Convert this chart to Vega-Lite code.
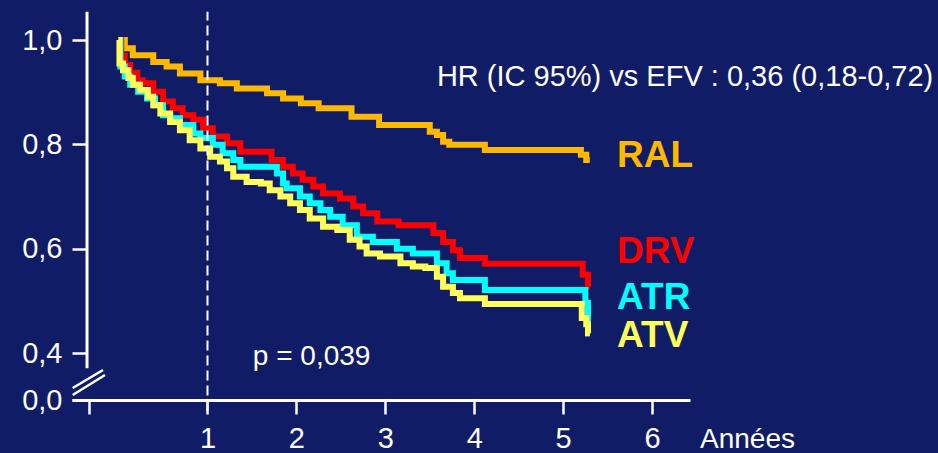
{
  "$schema": "https://vega.github.io/schema/vega-lite/v6.json",
  "width": 618,
  "height": 390,
  "autosize": "none",
  "padding": {"left": 72, "top": 10, "right": 248, "bottom": 53},
  "background": "#111c66",
  "config": {
    "view": {"stroke": null},
    "font": "Liberation Sans",
    "axis": {"grid": false, "title": null}
  },
  "datasets": {
    "RAL": [
      {"t": 0, "s": 1.0}, {"t": 0.07, "s": 0.984}, {"t": 0.16, "s": 0.971}, {"t": 0.39, "s": 0.958},
      {"t": 0.54, "s": 0.949}, {"t": 0.69, "s": 0.936}, {"t": 0.92, "s": 0.923}, {"t": 1.14, "s": 0.917},
      {"t": 1.33, "s": 0.907}, {"t": 1.67, "s": 0.898}, {"t": 1.85, "s": 0.888}, {"t": 2.05, "s": 0.879},
      {"t": 2.25, "s": 0.869}, {"t": 2.62, "s": 0.853}, {"t": 2.93, "s": 0.837}, {"t": 3.5, "s": 0.824},
      {"t": 3.58, "s": 0.818}, {"t": 3.65, "s": 0.805}, {"t": 3.72, "s": 0.799}, {"t": 4.12, "s": 0.789},
      {"t": 5.2, "s": 0.78}, {"t": 5.26, "s": 0.77}, {"t": 5.3, "s": 0.77}
    ],
    "DRV": [
      {"t": 0, "s": 1.0}, {"t": 0.03, "s": 0.97}, {"t": 0.07, "s": 0.952}, {"t": 0.13, "s": 0.937},
      {"t": 0.21, "s": 0.923}, {"t": 0.27, "s": 0.917}, {"t": 0.39, "s": 0.901}, {"t": 0.5, "s": 0.882},
      {"t": 0.61, "s": 0.869}, {"t": 0.72, "s": 0.856}, {"t": 0.84, "s": 0.847}, {"t": 0.95, "s": 0.831},
      {"t": 1.06, "s": 0.815}, {"t": 1.22, "s": 0.802}, {"t": 1.37, "s": 0.786}, {"t": 1.72, "s": 0.77},
      {"t": 1.85, "s": 0.757}, {"t": 1.96, "s": 0.744}, {"t": 2.07, "s": 0.732}, {"t": 2.19, "s": 0.719},
      {"t": 2.3, "s": 0.706}, {"t": 2.49, "s": 0.696}, {"t": 2.64, "s": 0.681}, {"t": 2.75, "s": 0.668},
      {"t": 2.91, "s": 0.652}, {"t": 3.15, "s": 0.645}, {"t": 3.54, "s": 0.63}, {"t": 3.65, "s": 0.613},
      {"t": 3.76, "s": 0.597}, {"t": 3.84, "s": 0.582}, {"t": 4.12, "s": 0.571}, {"t": 5.22, "s": 0.55},
      {"t": 5.28, "s": 0.527}, {"t": 5.3, "s": 0.527}
    ],
    "ATR": [
      {"t": 0, "s": 1.0}, {"t": 0.02, "s": 0.949}, {"t": 0.07, "s": 0.93}, {"t": 0.13, "s": 0.914},
      {"t": 0.22, "s": 0.901}, {"t": 0.32, "s": 0.888}, {"t": 0.41, "s": 0.875}, {"t": 0.5, "s": 0.856},
      {"t": 0.58, "s": 0.85}, {"t": 0.69, "s": 0.837}, {"t": 0.84, "s": 0.821}, {"t": 0.92, "s": 0.812},
      {"t": 1.06, "s": 0.799}, {"t": 1.17, "s": 0.783}, {"t": 1.29, "s": 0.77}, {"t": 1.37, "s": 0.757},
      {"t": 1.78, "s": 0.744}, {"t": 1.85, "s": 0.725}, {"t": 1.89, "s": 0.716}, {"t": 2.04, "s": 0.7},
      {"t": 2.15, "s": 0.687}, {"t": 2.27, "s": 0.674}, {"t": 2.38, "s": 0.661}, {"t": 2.52, "s": 0.645},
      {"t": 2.68, "s": 0.623}, {"t": 2.86, "s": 0.613}, {"t": 3.13, "s": 0.6}, {"t": 3.31, "s": 0.591},
      {"t": 3.58, "s": 0.572}, {"t": 3.69, "s": 0.553}, {"t": 3.76, "s": 0.54}, {"t": 4.12, "s": 0.521},
      {"t": 5.25, "s": 0.496}, {"t": 5.28, "s": 0.438}, {"t": 5.3, "s": 0.438}
    ],
    "ATV": [
      {"t": 0, "s": 1.0}, {"t": 0.01, "s": 0.955}, {"t": 0.05, "s": 0.942}, {"t": 0.11, "s": 0.927},
      {"t": 0.16, "s": 0.914}, {"t": 0.24, "s": 0.904}, {"t": 0.33, "s": 0.891}, {"t": 0.39, "s": 0.875},
      {"t": 0.47, "s": 0.859}, {"t": 0.58, "s": 0.843}, {"t": 0.69, "s": 0.827}, {"t": 0.8, "s": 0.808},
      {"t": 0.92, "s": 0.792}, {"t": 1.03, "s": 0.776}, {"t": 1.14, "s": 0.767}, {"t": 1.22, "s": 0.754},
      {"t": 1.29, "s": 0.738}, {"t": 1.44, "s": 0.728}, {"t": 1.6, "s": 0.725}, {"t": 1.7, "s": 0.712},
      {"t": 1.82, "s": 0.7}, {"t": 1.93, "s": 0.687}, {"t": 2.04, "s": 0.674}, {"t": 2.15, "s": 0.658},
      {"t": 2.3, "s": 0.642}, {"t": 2.46, "s": 0.636}, {"t": 2.6, "s": 0.617}, {"t": 2.71, "s": 0.604},
      {"t": 2.79, "s": 0.591}, {"t": 2.94, "s": 0.585}, {"t": 3.17, "s": 0.572}, {"t": 3.31, "s": 0.566},
      {"t": 3.45, "s": 0.563}, {"t": 3.58, "s": 0.546}, {"t": 3.65, "s": 0.527}, {"t": 3.76, "s": 0.515},
      {"t": 3.84, "s": 0.505}, {"t": 4.12, "s": 0.494}, {"t": 5.21, "s": 0.467}, {"t": 5.26, "s": 0.455},
      {"t": 5.28, "s": 0.438}, {"t": 5.3, "s": 0.438}
    ],
    "one": [{}]
  },
  "layer": [
    {
      "data": {"name": "RAL"},
      "mark": {"type": "line", "interpolate": "step-after", "color": "#FFB800", "strokeWidth": 6},
      "encoding": {
        "x": {
          "field": "t", "type": "quantitative",
          "scale": {"domain": [-0.524, 6.427], "nice": false, "zero": false},
          "axis": {
            "orient": "bottom",
            "values": [-0.333, 1, 2, 3, 4, 5, 6],
            "labelExpr": "datum.value < 0 ? '' : format(datum.value, 'd')",
            "domainColor": "white", "domainWidth": 3,
            "tickColor": "white", "tickWidth": 2.5, "tickSize": 14,
            "labelColor": "white", "labelFontSize": 29, "labelBaseline": "alphabetic",
            "labelPadding": 33, "labelFlush": false, "labelOverlap": false
          }
        },
        "y": {
          "field": "s", "type": "quantitative",
          "scale": {"domain": [0.31, 1.0575], "nice": false, "zero": false},
          "axis": {
            "values": [0.31, 0.4, 0.6, 0.8, 1.0],
            "labelExpr": "datum.value < 0.35 ? '0,0' : replace(format(datum.value, '.1f'), '.', ',')",
            "domain": false, "offset": -15,
            "tickColor": "white", "tickWidth": 2.5, "tickSize": 15,
            "labelColor": "white", "labelFontSize": 29, "labelPadding": 10,
            "labelFlush": false, "labelOverlap": false
          }
        }
      }
    },
    {
      "data": {"name": "DRV"},
      "mark": {"type": "line", "interpolate": "step-after", "color": "#FF0000", "strokeWidth": 6},
      "encoding": {
        "x": {"field": "t", "type": "quantitative"},
        "y": {"field": "s", "type": "quantitative"}
      }
    },
    {
      "data": {"name": "ATR"},
      "mark": {"type": "line", "interpolate": "step-after", "color": "#00FFFF", "strokeWidth": 6},
      "encoding": {
        "x": {"field": "t", "type": "quantitative"},
        "y": {"field": "s", "type": "quantitative"}
      }
    },
    {
      "data": {"name": "ATV"},
      "mark": {"type": "line", "interpolate": "step-after", "color": "#FFFF5A", "strokeWidth": 6},
      "encoding": {
        "x": {"field": "t", "type": "quantitative"},
        "y": {"field": "s", "type": "quantitative"}
      }
    },
    {
      "data": {"name": "one"},
      "mark": {"type": "rule", "color": "white", "strokeWidth": 2, "strokeDash": [10, 5]},
      "encoding": {
        "x": {"datum": 1, "type": "quantitative"},
        "y": {"datum": 0.29, "type": "quantitative"},
        "y2": {"datum": 1.054}
      }
    },
    {
      "data": {"name": "one"},
      "mark": {"type": "rule", "color": "white", "strokeWidth": 3},
      "encoding": {
        "x": {"datum": -0.355, "type": "quantitative"},
        "y": {"datum": 0.371, "type": "quantitative"},
        "y2": {"datum": 1.054}
      }
    },
    {
      "data": {"name": "one"},
      "mark": {"type": "rule", "color": "white", "strokeWidth": 2.5},
      "encoding": {
        "x": {"datum": -0.516, "type": "quantitative"},
        "x2": {"datum": -0.175},
        "y": {"datum": 0.333, "type": "quantitative"},
        "y2": {"datum": 0.3675}
      }
    },
    {
      "data": {"name": "one"},
      "mark": {"type": "rule", "color": "white", "strokeWidth": 2.5},
      "encoding": {
        "x": {"datum": -0.516, "type": "quantitative"},
        "x2": {"datum": -0.153},
        "y": {"datum": 0.3196, "type": "quantitative"},
        "y2": {"datum": 0.358}
      }
    },
    {
      "data": {"name": "one"},
      "mark": {"type": "text", "text": "HR (IC 95%) vs EFV : 0,36 (0,18-0,72)", "color": "white", "fontSize": 29, "align": "left", "baseline": "alphabetic"},
      "encoding": {
        "x": {"datum": 3.58, "type": "quantitative"},
        "y": {"datum": 0.912, "type": "quantitative"}
      }
    },
    {
      "data": {"name": "one"},
      "mark": {"type": "text", "text": "p = 0,039", "color": "white", "fontSize": 28, "align": "left", "baseline": "alphabetic"},
      "encoding": {
        "x": {"datum": 1.51, "type": "quantitative"},
        "y": {"datum": 0.378, "type": "quantitative"}
      }
    },
    {
      "data": {"name": "one"},
      "mark": {"type": "text", "text": "Années", "color": "white", "fontSize": 28, "align": "left", "baseline": "alphabetic"},
      "encoding": {
        "x": {"datum": 6.54, "type": "quantitative"},
        "y": {"datum": 0.218, "type": "quantitative"}
      }
    },
    {
      "data": {"name": "one"},
      "mark": {"type": "text", "text": "RAL", "color": "#FFB800", "fontSize": 37, "fontWeight": "bold", "align": "left", "baseline": "alphabetic"},
      "encoding": {
        "x": {"datum": 5.607, "type": "quantitative"},
        "y": {"datum": 0.756, "type": "quantitative"}
      }
    },
    {
      "data": {"name": "one"},
      "mark": {"type": "text", "text": "DRV", "color": "#FF0000", "fontSize": 37, "fontWeight": "bold", "align": "left", "baseline": "alphabetic"},
      "encoding": {
        "x": {"datum": 5.607, "type": "quantitative"},
        "y": {"datum": 0.573, "type": "quantitative"}
      }
    },
    {
      "data": {"name": "one"},
      "mark": {"type": "text", "text": "ATR", "color": "#00FFFF", "fontSize": 37, "fontWeight": "bold", "align": "left", "baseline": "alphabetic"},
      "encoding": {
        "x": {"datum": 5.607, "type": "quantitative"},
        "y": {"datum": 0.4836, "type": "quantitative"}
      }
    },
    {
      "data": {"name": "one"},
      "mark": {"type": "text", "text": "ATV", "color": "#FFFF5A", "fontSize": 37, "fontWeight": "bold", "align": "left", "baseline": "alphabetic"},
      "encoding": {
        "x": {"datum": 5.607, "type": "quantitative"},
        "y": {"datum": 0.411, "type": "quantitative"}
      }
    }
  ]
}
